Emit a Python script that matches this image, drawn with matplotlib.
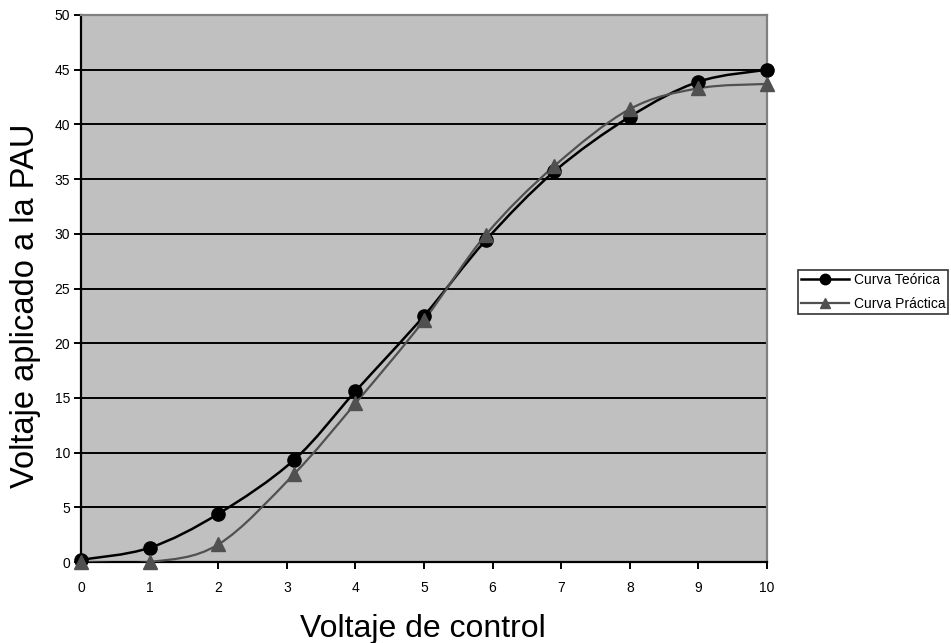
import matplotlib
matplotlib.use("Agg")
import matplotlib.pyplot as plt
from matplotlib.path import Path
from matplotlib.patches import PathPatch
from matplotlib.lines import Line2D

plt.rcParams['font.family'] = ['Liberation Sans', 'DejaVu Sans']

# Control voltage and the voltage applied to the PAU
voltaje_control = [0, 1, 2, 3.1, 4, 5, 5.9, 6.9, 8, 9, 10]
curva_teorica = [0.2, 1.3, 4.4, 9.3, 15.6, 22.5, 29.4, 35.7, 40.7, 43.9, 45.0]
curva_practica = [0, 0, 1.6, 8.0, 14.5, 22.1, 29.9, 36.2, 41.4, 43.3, 43.7]

y_ticks = [0, 5, 10, 15, 20, 25, 30, 35, 40, 45, 50]
x_ticks = [0, 1, 2, 3, 4, 5, 6, 7, 8, 9, 10]


def smooth_path(xs, ys):
    """Cubic Bezier path through the points (Catmull-Rom style smoothing)."""
    pts = list(zip(xs, ys))
    n = len(pts)
    verts = [pts[0]]
    codes = [Path.MOVETO]
    for i in range(n - 1):
        p0 = pts[i - 1] if i > 0 else pts[i]
        p1 = pts[i]
        p2 = pts[i + 1]
        p3 = pts[i + 2] if i + 2 < n else pts[i + 1]
        c1 = (p1[0] + (p2[0] - p0[0]) / 6.0, p1[1] + (p2[1] - p0[1]) / 6.0)
        c2 = (p2[0] - (p3[0] - p1[0]) / 6.0, p2[1] - (p3[1] - p1[1]) / 6.0)
        verts += [c1, c2, p2]
        codes += [Path.CURVE4] * 3
    return Path(verts, codes)


W, H = 951, 643
fig = plt.figure(figsize=(W / 100, H / 100), dpi=100)
ax = fig.add_axes([81 / W, 1 - 562 / H, (767 - 81) / W, (562 - 15) / H])
ax.set_facecolor('#c0c0c0')

ax.set_xlim(0, 10)
ax.set_ylim(0, 50)
ax.set_xticks(x_ticks)
ax.set_yticks(y_ticks)

for v in y_ticks[1:-1]:
    ax.axhline(v, color='black', lw=1.4, zorder=1)

teo_color = 'black'
pra_color = '#505050'

ax.add_patch(PathPatch(smooth_path(voltaje_control, curva_teorica),
                       facecolor='none', edgecolor=teo_color, lw=1.8, zorder=3))
ax.add_patch(PathPatch(smooth_path(voltaje_control, curva_practica),
                       facecolor='none', edgecolor=pra_color, lw=1.6, zorder=3))
ax.plot(voltaje_control, curva_teorica, 'o', color=teo_color, ms=9.5,
        zorder=4, clip_on=False)
ax.plot(voltaje_control, curva_practica, '^', color=pra_color, ms=10,
        zorder=5, clip_on=False)

for s in ['left', 'bottom']:
    ax.spines[s].set_color('black')
    ax.spines[s].set_linewidth(1.6)
for s in ['top', 'right']:
    ax.spines[s].set_color('#808080')
    ax.spines[s].set_linewidth(1.6)

ax.tick_params(axis='both', direction='out', length=5, width=1.4,
               labelsize=10, color='black')
ax.tick_params(axis='x', pad=9)
ax.tick_params(axis='y', pad=3)

fig.text(423 / W, 1 - 637 / H, 'Voltaje de control', fontsize=23,
         ha='center', va='baseline')
fig.text(26 / W, 1 - 306 / H, 'Voltaje aplicado a la PAU', fontsize=23.5,
         rotation=90, ha='center', va='center')

handles = [
    Line2D([], [], color=teo_color, lw=1.8, marker='o', ms=7.5),
    Line2D([], [], color=pra_color, lw=1.6, marker='^', ms=7.5),
]
leg = fig.legend(handles, ['Curva Teórica', 'Curva Práctica'],
                 loc='upper left', bbox_to_anchor=(798 / W, 1 - 270 / H),
                 fontsize=10, frameon=True, fancybox=False,
                 handlelength=3.45, handletextpad=0.35, borderpad=0.2,
                 labelspacing=0.75, borderaxespad=0)
leg.get_frame().set_edgecolor('black')
leg.get_frame().set_linewidth(1.2)

fig.savefig('out.png', dpi=100)
